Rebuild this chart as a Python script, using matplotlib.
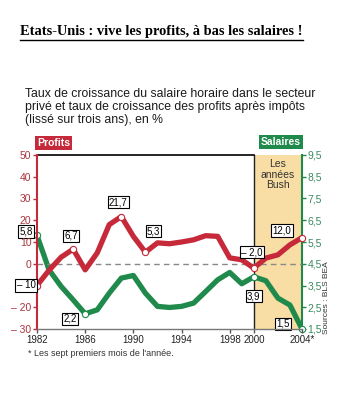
import matplotlib
matplotlib.use("Agg")
import matplotlib.pyplot as plt
from matplotlib.lines import Line2D

years = list(range(1982, 2005))
profits = [-10, -3, 3, 6.7, -2.8, 5, 18, 21.7, 12.6, 5.3, 9.6, 9.2,
           10, 11, 12.9, 12.6, 2.7, 1.8, -2.0, 2.6, 4.1, 8.7, 12.0]
salaires = [5.8, 4.22, 3.46, 2.84, 2.2, 2.38, 3.15, 3.84, 3.96, 3.15, 2.54, 2.49,
            2.54, 2.69, 3.22, 3.76, 4.1, 3.58, 3.9, 3.72, 2.92, 2.6, 1.5]

profit_labels = {1982: "– 10", 1985: "6,7", 1989: "21,7", 1991: "5,3", 2000: "– 2,0", 2004: "12,0"}
salaire_labels = {1982: "5,8", 1986: "2,2", 2000: "3,9", 2004: "1,5"}

left_ticks = [50, 40, 30, 20, 10, 0, -10, -20, -30]
left_ticklabels = ["50", "40", "30", "20", "10", "0", "– 10", "– 20", "– 30"]
right_ticks = [9.5, 8.5, 7.5, 6.5, 5.5, 4.5, 3.5, 2.5, 1.5]
right_ticklabels = ["9,5", "8,5", "7,5", "6,5", "5,5", "4,5", "3,5", "2,5", "1,5"]
x_ticks = [1982, 1986, 1990, 1994, 1998, 2000, 2004]
x_ticklabels = ["1982", "1986", "1990", "1994", "1998", "2000", "2004*"]

RED = "#c62a3a"
RED_TXT = "#a8343e"
GREEN = "#1f8a4c"
GREEN_TXT = "#3a8a60"
BUSH = "#f8dea4"

plt.rcParams["font.family"] = ["Liberation Sans", "DejaVu Sans"]

fig = plt.figure(figsize=(3.43, 4.0), dpi=100)
W, H = 343, 400
ax = fig.add_axes([37 / W, 1 - 329 / H, 265 / W, 174 / H])
ax2 = ax.twinx()

ax.set_xlim(1982, 2004)
ax.set_ylim(-30, 50)
ax2.set_ylim(1.5, 9.5)

# background: Bush years (drawn in the lower axes)
ax2.axvspan(2000, 2004, color=BUSH, zorder=0, lw=0)
ax2.axvline(2000, color="#222222", lw=1.0, zorder=1)
ax.axhline(0, color="#888888", lw=1.0, ls=(0, (4, 3)), zorder=1)
ax.axhline(50, xmin=0, xmax=(2000 - 1982) / 22, color="black", lw=1.2, clip_on=False)

ax.plot(years, profits, color=RED, lw=3.8, solid_capstyle="round", solid_joinstyle="round", zorder=3)
ax2.plot(years, salaires, color=GREEN, lw=3.8, solid_capstyle="round", solid_joinstyle="round", zorder=3)

box = dict(boxstyle="square,pad=0.12", fc="white", ec="black", lw=0.8)
p_off = {1982: (-11, 0), 1985: (-2, 13.5), 1989: (-3, 14.5), 1991: (8, 21), 2000: (-2, 16), 2004: (-20, 7)}
s_off = {1982: (-11, 4), 1986: (-15, -5), 2000: (0, -19.5), 2004: (-19, 5)}

for yr, txt in profit_labels.items():
    v = profits[years.index(yr)]
    ax.plot(yr, v, "o", ms=4.5, mfc="white", mec=RED, mew=0.8, zorder=5, clip_on=False)
    dx, dy = p_off[yr]
    ax.annotate(txt, (yr, v), xytext=(dx, dy), textcoords="offset pixels",
                ha="center", va="center", fontsize=7, bbox=box, zorder=6, annotation_clip=False)

for yr, txt in salaire_labels.items():
    v = salaires[years.index(yr)]
    ax2.plot(yr, v, "o", ms=4.5, mfc="white", mec=GREEN, mew=0.8, zorder=5, clip_on=False)
    dx, dy = s_off[yr]
    ax2.annotate(txt, (yr, v), xytext=(dx, dy), textcoords="offset pixels",
                 ha="center", va="center", fontsize=7, bbox=box, zorder=6, annotation_clip=False)

# axes styling
for a in (ax, ax2):
    a.spines["top"].set_visible(False)
ax.spines["left"].set_color(RED)
ax.spines["left"].set_linewidth(1.5)
ax.spines["right"].set_visible(False)
ax2.spines["left"].set_visible(False)
ax2.spines["bottom"].set_visible(False)
ax2.spines["right"].set_color(GREEN)
ax2.spines["right"].set_linewidth(1.5)
ax.spines["bottom"].set_color("#777777")
ax.spines["bottom"].set_linewidth(1.0)

ax.set_yticks(left_ticks)
ax.set_yticklabels(left_ticklabels)
ax.tick_params(axis="y", colors=RED, labelcolor=RED_TXT, labelsize=7.5, length=3, width=1, pad=1)
# the "- 10" tick label sits under the 1982 value box, as in the original
ax.get_yticklabels()[left_ticks.index(-10)].set_visible(False)
ax2.set_yticks(right_ticks)
ax2.set_yticklabels(right_ticklabels)
ax2.tick_params(axis="y", colors=GREEN, labelcolor=GREEN_TXT, labelsize=7.5, length=3, width=1, pad=1)
ax.set_xticks(x_ticks)
ax.set_xticklabels(x_ticklabels)
ax.tick_params(axis="x", colors="#555555", labelcolor="#222222", labelsize=7, length=3, width=1, pad=1)
ax.set_zorder(ax2.get_zorder() + 1)
ax.patch.set_visible(False)

ax.text(2002, 48, "Les\nannées\nBush", ha="center", va="top", fontsize=7.5,
        color="#333333", linespacing=1.05)

# header labels
fig.text(37 / W, 1 - 143 / H, "Profits", color="white", fontsize=7.5, fontweight="bold",
         ha="left", va="center", bbox=dict(boxstyle="square,pad=0.15", fc=RED, ec="none"))
fig.text(301 / W, 1 - 142 / H, "Salaires", color="white", fontsize=7.5, fontweight="bold",
         ha="right", va="center", bbox=dict(boxstyle="square,pad=0.15", fc=GREEN, ec="none"))

fig.text(326 / W, 1 - 298 / H, "Sources : BLS BEA", rotation=90, fontsize=6,
         ha="center", va="center", color="#333333")
fig.text(28 / W, 1 - 354 / H, "* Les sept premiers mois de l'année.", fontsize=6.5,
         ha="left", va="center", color="#333333")

fig.text(25 / W, 1 - 88 / H,
         "Taux de croissance du salaire horaire dans le secteur\n"
         "privé et taux de croissance des profits après impôts\n"
         "(lissé sur trois ans), en %",
         fontsize=8.8, ha="left", va="top", color="#1a1a1a", linespacing=1.1)

t = fig.text(20 / W, 1 - 32 / H, "Etats-Unis : vive les profits, à bas les salaires !",
             fontsize=10.4, fontweight="bold", family="Liberation Serif",
             ha="left", va="center", color="black")
fig.canvas.draw()
bb = t.get_window_extent()
fig.add_artist(Line2D([bb.x0 / fig.bbox.width, bb.x1 / fig.bbox.width],
                      [(bb.y0 - 1) / fig.bbox.height] * 2, color="black", lw=1.0))

fig.savefig("out.png", dpi=100)
